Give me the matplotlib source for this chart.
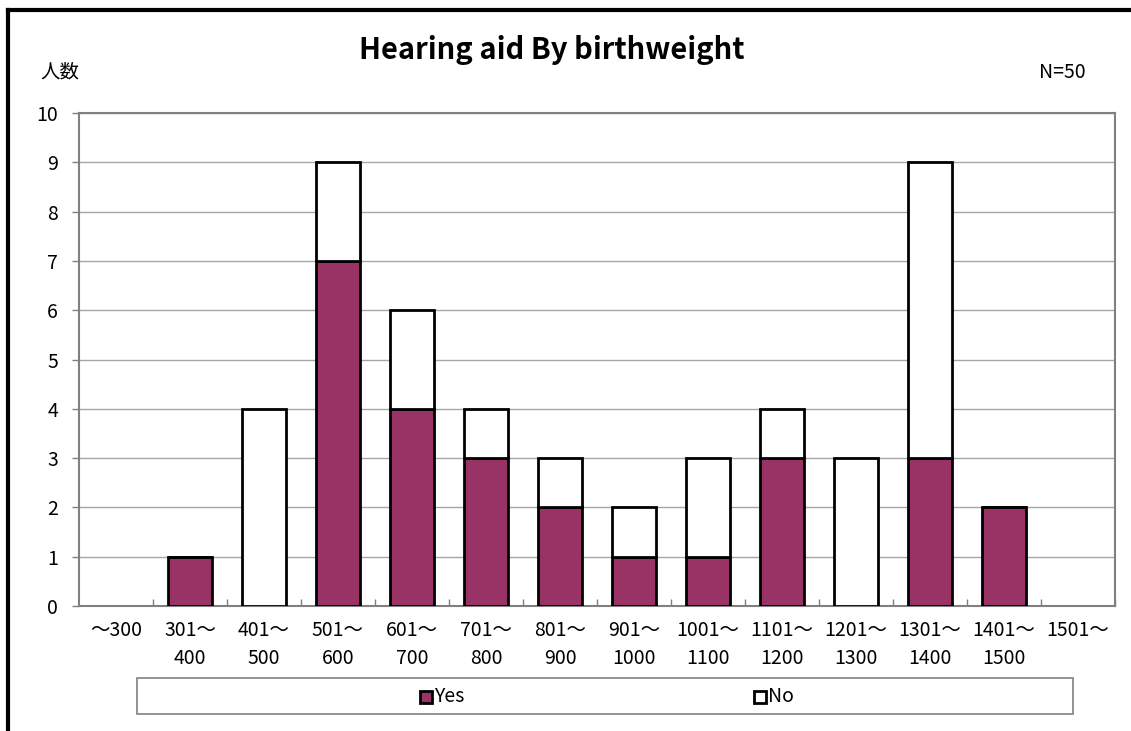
import matplotlib
matplotlib.use("Agg")
import matplotlib.pyplot as plt
import numpy as np
from matplotlib.patches import Rectangle
from matplotlib.lines import Line2D

plt.rcParams['font.family'] = ['Noto Sans CJK JP', 'DejaVu Sans']

categories = ["～300", "301～\n400", "401～\n500", "501～\n600", "601～\n700",
              "701～\n800", "801～\n900", "901～\n1000", "1001～\n1100",
              "1101～\n1200", "1201～\n1300", "1301～\n1400", "1401～\n1500", "1501～"]
yes_vals = [0, 1, 0, 7, 4, 3, 2, 1, 1, 3, 0, 3, 2, 0]
no_vals = [0, 0, 4, 2, 2, 1, 1, 1, 2, 1, 3, 6, 0, 0]
yticks = list(range(0, 11))

title = "Hearing aid By birthweight"
ylabel = "人数"
ntext = "N=50"
series_names = ["Yes", "No"]
yes_color = "#993366"
no_color = "#FFFFFF"

W, H = 1131, 731
fig = plt.figure(figsize=(W / 100, H / 100), dpi=100)
ax = fig.add_axes([79 / W, 1 - 606 / H, (1115 - 79) / W, (606 - 113) / H])

x = np.arange(len(categories))
yes = np.array(yes_vals, dtype=float)
no = np.array(no_vals, dtype=float)
total = yes + no
show = total > 0
xs = x[show]

ax.bar(xs, yes[show], width=0.6, color=yes_color, edgecolor='black', linewidth=2, zorder=3)
ax.bar(xs, no[show], bottom=yes[show], width=0.6, color=no_color, edgecolor='black', linewidth=2, zorder=3)

ax.set_xlim(-0.5, len(categories) - 0.5)
ax.set_ylim(0, 10)
ax.set_yticks(yticks)
ax.yaxis.grid(True, color='#a6a6a6', linewidth=1, zorder=0)
ax.set_axisbelow(True)
for s in ax.spines.values():
    s.set_color('#808080')
    s.set_linewidth(1.5)

ax.set_xticks(x)
ax.set_xticklabels(categories, fontsize=14, linespacing=1.45)
ax.tick_params(axis='x', which='major', length=0, pad=10)
ax.set_xticks(np.arange(0.5, len(categories) - 0.5 + 0.01, 1), minor=True)
ax.tick_params(axis='x', which='minor', direction='in', length=5, color='#808080', width=1)
ax.tick_params(axis='y', direction='out', length=5, color='#808080', width=1, labelsize=14, pad=10)

fig.text(552 / W, 1 - 50 / H, title, ha='center', va='center', fontsize=21, fontweight='bold')
fig.text(40 / W, 1 - 72 / H, ylabel, ha='left', va='center', fontsize=14)
fig.text(1086 / W, 1 - 72 / H, ntext, ha='right', va='center', fontsize=14)

# outer frame (top and left)
fig.add_artist(Line2D([8 / W, 1.0], [1 - 10 / H, 1 - 10 / H], color='black', linewidth=3))
fig.add_artist(Line2D([8 / W, 8 / W], [1 - 10 / H, 0], color='black', linewidth=3))

# legend box
fig.add_artist(Rectangle((137 / W, 1 - 714 / H), (1073 - 137) / W, (714 - 678) / H,
                         transform=fig.transFigure, facecolor='white', edgecolor='#808080', linewidth=1.2))
for name, col, mx in zip(series_names, [yes_color, no_color], [426, 760]):
    fig.add_artist(Line2D([mx / W], [1 - 697 / H], marker='s', markersize=8,
                          markerfacecolor=col, markeredgecolor='black', markeredgewidth=2,
                          linestyle='none', transform=fig.transFigure))
    fig.text((mx + 8) / W, 1 - 697 / H, name, ha='left', va='center', fontsize=14)

fig.savefig("out.png", dpi=100)
